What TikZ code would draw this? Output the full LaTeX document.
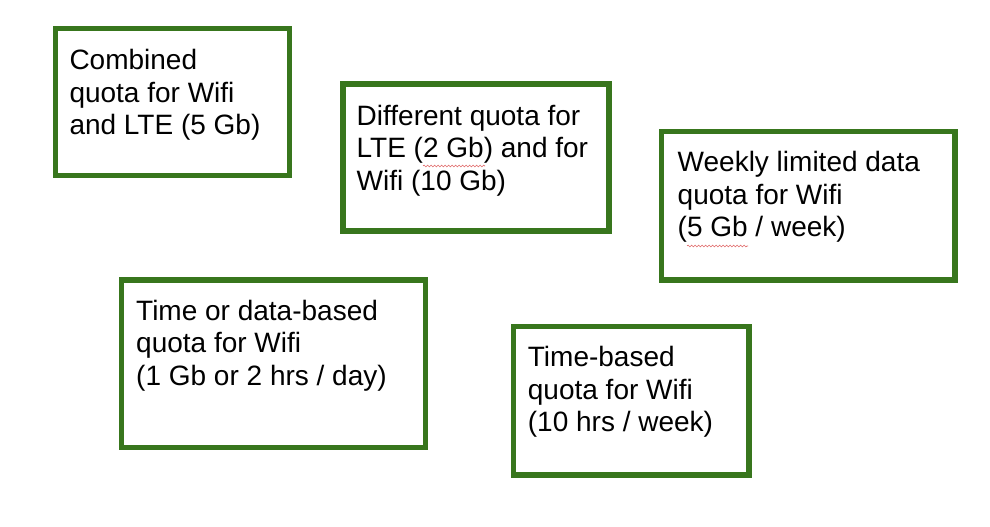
\documentclass[tikz,border=0pt]{standalone}
\usepackage{fontspec}
\setmainfont{Liberation Sans}
\usetikzlibrary{decorations.pathmorphing}
\definecolor{boxgreen}{HTML}{38761D}
\definecolor{squigred}{HTML}{E06666}
\tikzset{
  quotabox/.style={draw=boxgreen, line width=5.5pt, fill=white, rectangle, inner sep=0pt, line join=miter},
  quotatext/.style={anchor=base west, inner sep=0pt, font=\fontsize{28}{32.5}\selectfont},
  squig/.style={draw=squigred, line width=0.6pt, decorate, decoration={snake, amplitude=0.9pt, segment length=3.5pt}}
}
\newcommand{\qlines}[1]{\parbox[t]{12cm}{\raggedright #1}}
\begin{document}
\begin{tikzpicture}[x=1pt,y=-1pt]
\useasboundingbox (0,0) rectangle (990,527);
\fill[white] (0,0) rectangle (990,527);

\node[quotabox, minimum width=234pt, minimum height=147pt] (b1) at (172.5,102) {};
\node[quotabox, minimum width=266pt, minimum height=147pt] (b2) at (476,157.5) {};
\node[quotabox, minimum width=293.5pt, minimum height=148.5pt] (b3) at (808.25,205.75) {};
\node[quotabox, minimum width=304pt, minimum height=167.5pt] (b4) at (273.5,363.75) {};
\node[quotabox, minimum width=235.5pt, minimum height=148.5pt] (b5) at (631.25,400.75) {};

\node[quotatext] (t1) at (69.3,70) {\qlines{Combined\\quota for Wifi\\and LTE (5 Gb)}};
\node[quotatext] (t2) at (356.5,125) {\qlines{Different quota for\\LTE (2 Gb) and for\\Wifi (10 Gb)}};
\node[quotatext] (t3) at (677.5,171.7) {\qlines{Weekly limited data\\quota for Wifi\\(5 Gb / week)}};
\node[quotatext] (t4) at (136,320) {\qlines{Time or data-based\\quota for Wifi\\(1 Gb or 2 hrs / day)}};
\node[quotatext] (t5) at (527.7,366.7) {\qlines{Time-based\\quota for Wifi\\(10 hrs / week)}};

\coordinate (s1a) at (423,166);
\coordinate (s1b) at (485,166);
\coordinate (s2a) at (687,246);
\coordinate (s2b) at (748,246);
\draw[squig] (s1a) -- (s1b);
\draw[squig] (s2a) -- (s2b);
\end{tikzpicture}
\end{document}
